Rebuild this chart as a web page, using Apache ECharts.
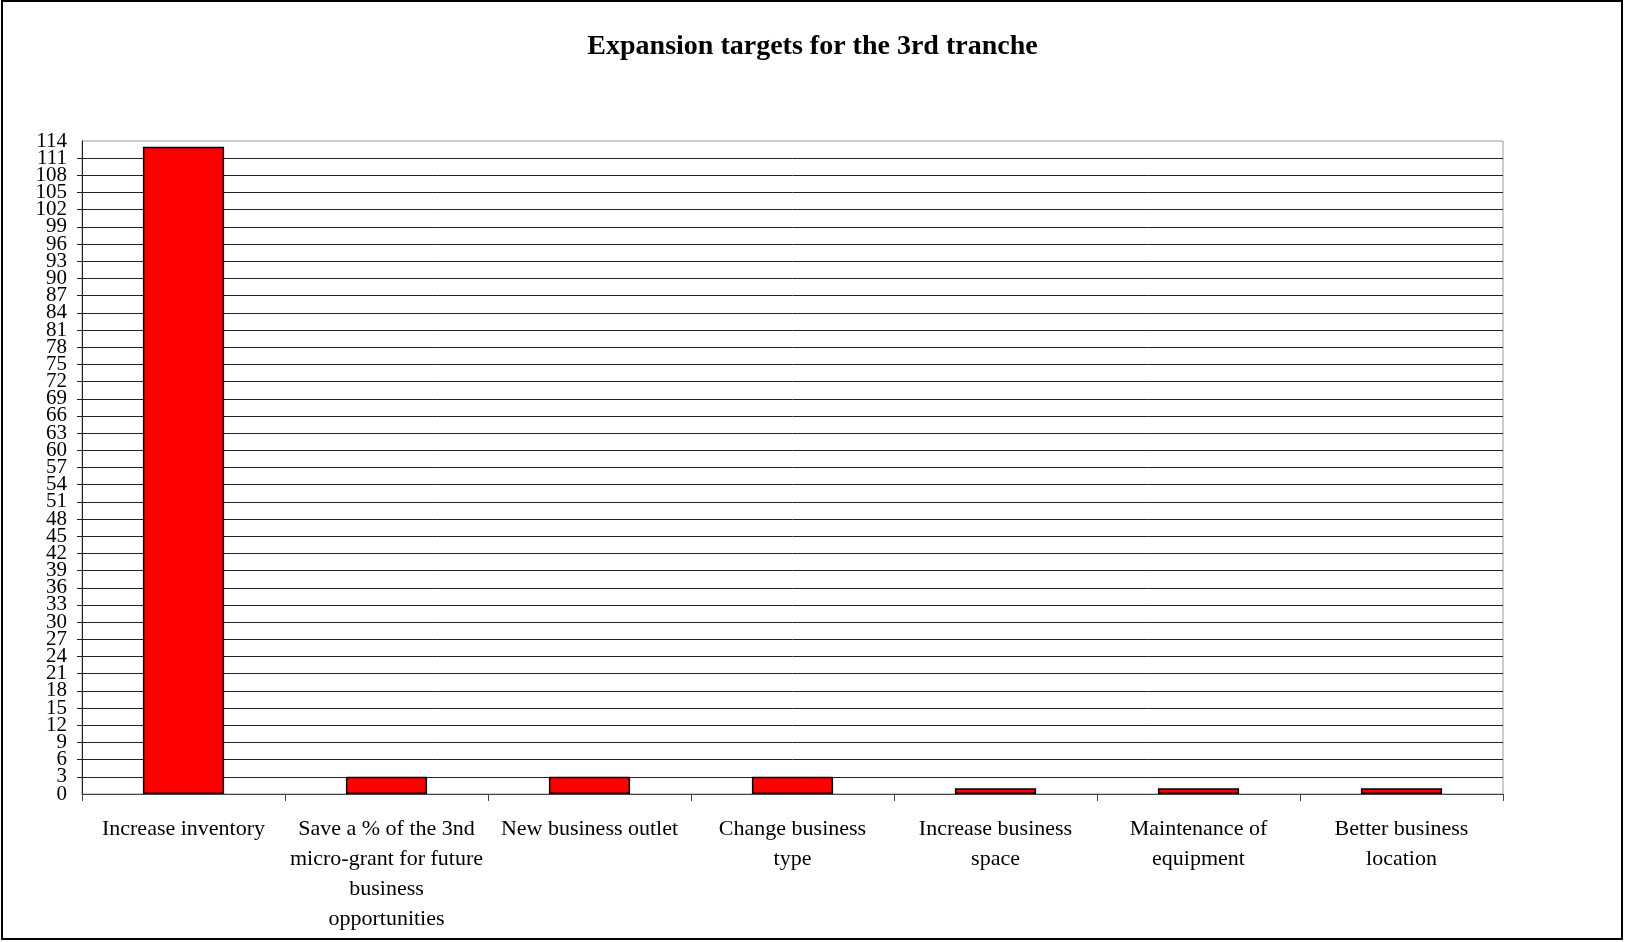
<!DOCTYPE html>
<html>
<head>
<meta charset="utf-8">
<script src="https://cdn.jsdelivr.net/npm/echarts@6/dist/echarts.min.js"></script>
<style>
  html, body { margin: 0; padding: 0; background: #fff; }
  #chart { width: 1625px; height: 942px; }
</style>
</head>
<body>
<div id="chart"></div>
<script>
// Expansion targets chosen by micro-grant recipients for the third tranche
const categories = [
  'Increase inventory',
  'Save a % of the 3nd\nmicro-grant for future\nbusiness\nopportunities',
  'New business outlet',
  'Change business\ntype',
  'Increase business\nspace',
  'Maintenance of\nequipment',
  'Better business\nlocation'
];
const counts = [113, 3, 3, 3, 1, 1, 1];
const yMin = 0;
const yMax = 114;
const yStep = 3;

const serif = '"Liberation Serif", "DejaVu Serif", serif';

// The value labels sit closer together than their glyph height, so they are
// split over two overlaid left axes (even and odd steps) to keep every one visible.
const yLabelStyle = {
  margin: 15,
  fontFamily: serif,
  fontSize: 21,
  color: '#000',
  hideOverlap: false
};

const chart = echarts.init(document.getElementById('chart'), null, { renderer: 'canvas' });
chart.setOption({
  backgroundColor: '#fff',
  animation: false,
  title: {
    text: 'Expansion targets for the 3rd tranche',
    left: 'center',
    top: 28,
    textStyle: { fontFamily: serif, fontWeight: 'bold', fontSize: 28, color: '#000' }
  },
  graphic: [{
    type: 'rect',
    shape: { x: 2, y: 1, width: 1620, height: 938 },
    style: { fill: 'none', stroke: '#000', lineWidth: 2 },
    silent: true
  }],
  grid: {
    left: 82, right: 122, top: 141, bottom: 148,
    show: true, borderColor: '#999', borderWidth: 1, backgroundColor: 'transparent'
  },
  xAxis: {
    type: 'category',
    data: categories,
    boundaryGap: true,
    axisLine: { lineStyle: { color: '#444', width: 1 } },
    axisTick: { show: true, length: 7, lineStyle: { color: '#444' } },
    axisLabel: {
      interval: 0,
      margin: 20,
      fontFamily: serif,
      fontSize: 22,
      lineHeight: 30,
      color: '#000'
    },
    splitLine: { show: false }
  },
  yAxis: [
    {
      type: 'value',
      position: 'left',
      min: yMin,
      max: yMax,
      interval: yStep * 2,
      axisLine: { show: true, lineStyle: { color: '#222', width: 1 } },
      axisTick: { show: false },
      axisLabel: Object.assign({}, yLabelStyle, { showMinLabel: true, showMaxLabel: true }),
      splitLine: { show: false }
    },
    {
      type: 'value',
      position: 'left',
      offset: 0,
      min: yMin,
      max: yMax,
      interval: yStep,
      axisLine: { show: false },
      axisTick: { show: true, length: 5, lineStyle: { color: '#222' } },
      axisLabel: Object.assign({}, yLabelStyle, {
        showMinLabel: false,
        showMaxLabel: false,
        formatter: v => (v % (yStep * 2) === yStep ? String(v) : '')
      }),
      splitLine: {
        show: true,
        showMaxLine: false,
        lineStyle: { color: '#222', width: 1 }
      }
    }
  ],
  series: [{
    type: 'bar',
    yAxisIndex: 0,
    data: counts,
    barWidth: '40%',
    itemStyle: { color: '#ff0000', borderColor: '#000', borderWidth: 1.5 }
  }]
});
</script>
</body>
</html>
